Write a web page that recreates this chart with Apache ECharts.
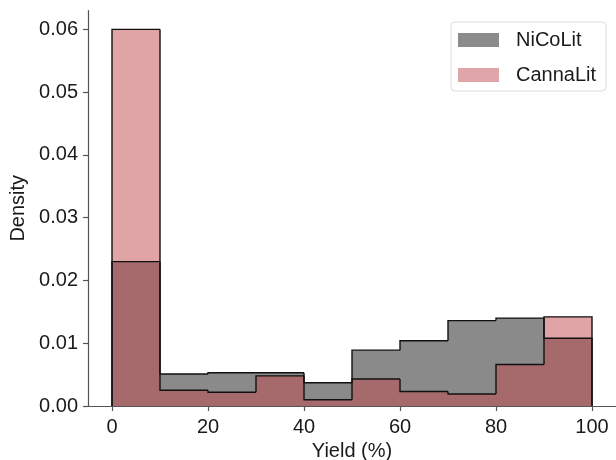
<!DOCTYPE html>
<html>
<head>
<meta charset="utf-8">
<script src="https://cdn.jsdelivr.net/npm/echarts@6/dist/echarts.min.js"></script>
<style>
  html, body { margin: 0; padding: 0; background: #fff; }
  #chart { width: 616px; height: 460px; }
</style>
</head>
<body>
<div id="chart"></div>
<script>
// histogram bins (yield %) and densities per bin
const binEdges = [0, 10, 20, 30, 40, 50, 60, 70, 80, 90, 100];
const nicolit = [0.0230, 0.0051, 0.0053, 0.0053, 0.0037, 0.0089, 0.0104, 0.0136, 0.0140, 0.0108];
const cannalit = [0.0600, 0.0025, 0.0022, 0.0048, 0.0010, 0.0043, 0.0023, 0.0019, 0.0066, 0.0142];
const xTicks = [0, 20, 40, 60, 80, 100];
const yTicks = [0, 0.01, 0.02, 0.03, 0.04, 0.05, 0.06];

const fontFamily = 'Liberation Sans, Arial, sans-serif';
const grayFill = '#8a8a8a';
const pinkFill = 'rgba(193, 73, 80, 0.5)';

// one item per bin: [left edge, right edge, value, previous value]
function binData(vals) {
  return vals.map((v, i) => [binEdges[i], binEdges[i + 1], v, i > 0 ? vals[i - 1] : 0]);
}

// filled bars, no border
function histFill(name, vals, fill, z) {
  return {
    name: name,
    type: 'custom',
    z: z,
    silent: true,
    itemStyle: { color: fill },
    data: binData(vals),
    renderItem: function (params, api) {
      const p0 = api.coord([api.value(0), 0]);
      const p1 = api.coord([api.value(1), api.value(2)]);
      return {
        type: 'rect',
        shape: { x: p0[0], y: p1[1], width: p1[0] - p0[0], height: p0[1] - p1[1] },
        style: { fill: fill }
      };
    }
  };
}

// step outline drawn on top of all fills
function histOutline(vals, z) {
  const n = vals.length;
  return {
    type: 'custom',
    z: z,
    silent: true,
    data: binData(vals),
    renderItem: function (params, api) {
      const x0 = api.value(0), x1 = api.value(1), v = api.value(2), prev = api.value(3);
      let pts = [api.coord([x0, prev]), api.coord([x0, v]), api.coord([x1, v])];
      if (params.dataIndex === n - 1) pts.push(api.coord([x1, 0]));
      return {
        type: 'polyline',
        shape: { points: pts },
        style: { stroke: '#111', lineWidth: 1.4, fill: null, lineJoin: 'miter' }
      };
    }
  };
}

let myChart = echarts.init(document.getElementById('chart'), null, { renderer: 'canvas' });

let option = {
  animation: false,
  backgroundColor: '#fff',
  grid: {
    left: 88,
    right: 0,
    top: 10.5,
    bottom: 54,
    outerBoundsMode: 'none',
    containLabel: false
  },
  legend: {
    left: 451,
    top: 22,
    orient: 'vertical',
    padding: [8, 10, 6, 7],
    itemWidth: 41,
    itemHeight: 14,
    itemGap: 15,
    borderColor: '#dcdcdc',
    borderWidth: 1,
    borderRadius: 4,
    backgroundColor: '#fff',
    textStyle: {
      fontFamily: fontFamily,
      fontSize: 20,
      color: '#1a1a1a',
      padding: [0, 0, 0, 12]
    },
    data: [
      { name: 'NiCoLit', icon: 'rect', itemStyle: { color: '#8c8c8c', borderWidth: 0 } },
      { name: 'CannaLit', icon: 'rect', itemStyle: { color: '#e0a5a8', borderWidth: 0 } }
    ]
  },
  xAxis: {
    type: 'value',
    min: -5,
    max: 105,
    name: 'Yield (%)',
    nameLocation: 'middle',
    nameGap: 32,
    nameTextStyle: { fontFamily: fontFamily, fontSize: 20, color: '#1a1a1a' },
    splitLine: { show: false },
    axisLine: { show: true, onZero: false, lineStyle: { color: '#555', width: 1.2 } },
    axisTick: { show: true, length: 5, customValues: xTicks, lineStyle: { color: '#555', width: 1.2 } },
    axisLabel: {
      customValues: xTicks,
      margin: 11,
      fontFamily: fontFamily,
      fontSize: 20,
      color: '#1a1a1a'
    }
  },
  yAxis: {
    type: 'value',
    min: 0,
    max: 0.063,
    name: 'Density',
    nameLocation: 'middle',
    nameGap: 57,
    nameTextStyle: { fontFamily: fontFamily, fontSize: 20, color: '#1a1a1a' },
    splitLine: { show: false },
    axisLine: { show: true, onZero: false, lineStyle: { color: '#555', width: 1.2 } },
    axisTick: { show: true, length: 5, customValues: yTicks, lineStyle: { color: '#555', width: 1.2 } },
    axisLabel: {
      customValues: yTicks,
      margin: 10,
      fontFamily: fontFamily,
      fontSize: 20,
      color: '#1a1a1a',
      formatter: v => v.toFixed(2)
    }
  },
  series: [
    histFill('NiCoLit', nicolit, grayFill, 2),
    histFill('CannaLit', cannalit, pinkFill, 3),
    histOutline(nicolit, 4),
    histOutline(cannalit, 5)
  ]
};

myChart.setOption(option);
</script>
</body>
</html>
